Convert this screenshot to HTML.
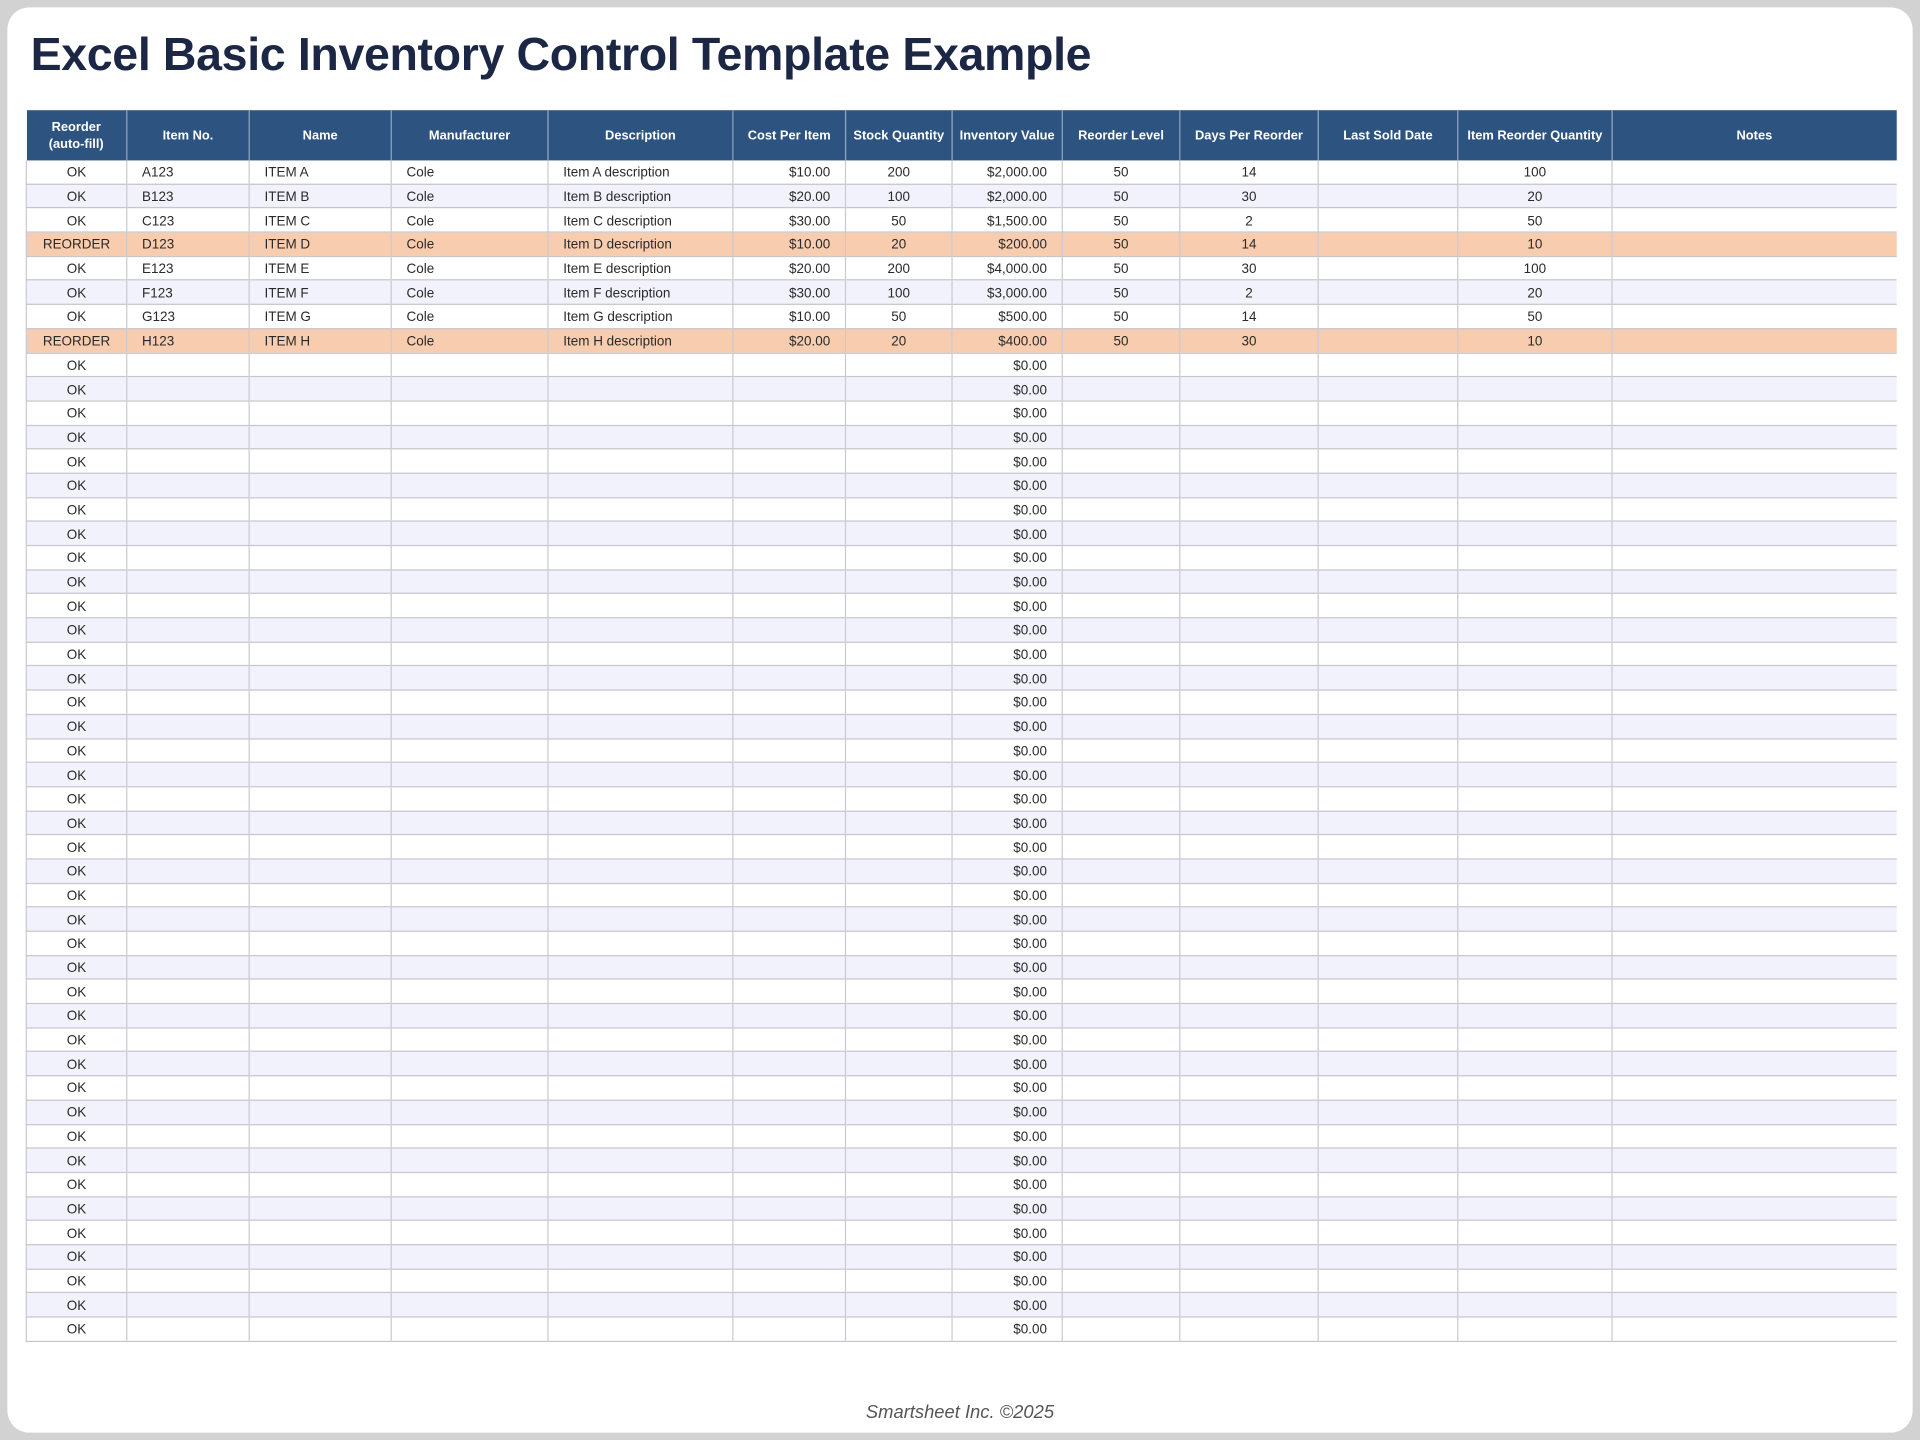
<!DOCTYPE html>
<html><head><meta charset="utf-8">
<style>
html,body{margin:0;padding:0;background:#cfcfcf;}
body{width:1920px;height:1440px;overflow:hidden;}
#wrap{width:1568px;height:1176px;transform:scale(1.22449);transform-origin:0 0;position:relative;background:#d2d2d2;}
#panel{position:absolute;left:6px;top:6px;width:1556px;height:1164px;background:#fff;border-radius:18px;}
h1{position:absolute;left:25px;top:24px;margin:0;font-family:"Liberation Sans",sans-serif;font-weight:bold;font-size:38px;color:#1b2744;letter-spacing:-0.3px;white-space:nowrap;}
table{position:absolute;left:21px;top:90px;border-collapse:collapse;table-layout:fixed;width:1527px;font-family:"Liberation Sans",sans-serif;font-size:11px;color:#2a2a2a;}
th{background:#2d5381;color:#fff;font-weight:bold;font-size:10.5px;height:41px;padding:0 2px;border-left:1px solid #8aa0bd;text-align:center;line-height:14px;}
th:first-child{border-left:none;}
td{height:16.7px;padding:2px 0 0 0;box-sizing:content-box;border-bottom:1px solid #c6c6cc;border-left:1px solid #c9c9d2;white-space:nowrap;line-height:16px;}
tr.a td{background:#f2f2fc;}
tr.r td{background:#f8ccae;}
.c{text-align:center;}.l{padding-left:12px;}.rt{text-align:right;padding-right:12px;}
#foot{position:absolute;left:0;width:1568px;top:1145px;text-align:center;font-family:"Liberation Sans",sans-serif;font-style:italic;font-size:15px;color:#555;}
</style></head><body><div id="wrap"><div id="panel"></div>
<h1>Excel Basic Inventory Control Template Example</h1>
<table>
<colgroup><col style="width:82px"><col style="width:100px"><col style="width:116px"><col style="width:128px"><col style="width:151px"><col style="width:92px"><col style="width:87px"><col style="width:90px"><col style="width:96px"><col style="width:113px"><col style="width:114px"><col style="width:126px"><col style="width:232px"></colgroup>
<tr><th>Reorder<br>(auto-fill)</th><th>Item No.</th><th>Name</th><th>Manufacturer</th><th>Description</th><th>Cost Per Item</th><th>Stock Quantity</th><th>Inventory Value</th><th>Reorder Level</th><th>Days Per Reorder</th><th>Last Sold Date</th><th>Item Reorder Quantity</th><th>Notes</th></tr>
<tr><td class="c">OK</td><td class="l">A123</td><td class="l">ITEM A</td><td class="l">Cole</td><td class="l">Item A description</td><td class="rt">$10.00</td><td class="c">200</td><td class="rt">$2,000.00</td><td class="c">50</td><td class="c">14</td><td></td><td class="c">100</td><td></td></tr>
<tr class="a"><td class="c">OK</td><td class="l">B123</td><td class="l">ITEM B</td><td class="l">Cole</td><td class="l">Item B description</td><td class="rt">$20.00</td><td class="c">100</td><td class="rt">$2,000.00</td><td class="c">50</td><td class="c">30</td><td></td><td class="c">20</td><td></td></tr>
<tr><td class="c">OK</td><td class="l">C123</td><td class="l">ITEM C</td><td class="l">Cole</td><td class="l">Item C description</td><td class="rt">$30.00</td><td class="c">50</td><td class="rt">$1,500.00</td><td class="c">50</td><td class="c">2</td><td></td><td class="c">50</td><td></td></tr>
<tr class="r"><td class="c">REORDER</td><td class="l">D123</td><td class="l">ITEM D</td><td class="l">Cole</td><td class="l">Item D description</td><td class="rt">$10.00</td><td class="c">20</td><td class="rt">$200.00</td><td class="c">50</td><td class="c">14</td><td></td><td class="c">10</td><td></td></tr>
<tr><td class="c">OK</td><td class="l">E123</td><td class="l">ITEM E</td><td class="l">Cole</td><td class="l">Item E description</td><td class="rt">$20.00</td><td class="c">200</td><td class="rt">$4,000.00</td><td class="c">50</td><td class="c">30</td><td></td><td class="c">100</td><td></td></tr>
<tr class="a"><td class="c">OK</td><td class="l">F123</td><td class="l">ITEM F</td><td class="l">Cole</td><td class="l">Item F description</td><td class="rt">$30.00</td><td class="c">100</td><td class="rt">$3,000.00</td><td class="c">50</td><td class="c">2</td><td></td><td class="c">20</td><td></td></tr>
<tr><td class="c">OK</td><td class="l">G123</td><td class="l">ITEM G</td><td class="l">Cole</td><td class="l">Item G description</td><td class="rt">$10.00</td><td class="c">50</td><td class="rt">$500.00</td><td class="c">50</td><td class="c">14</td><td></td><td class="c">50</td><td></td></tr>
<tr class="r"><td class="c">REORDER</td><td class="l">H123</td><td class="l">ITEM H</td><td class="l">Cole</td><td class="l">Item H description</td><td class="rt">$20.00</td><td class="c">20</td><td class="rt">$400.00</td><td class="c">50</td><td class="c">30</td><td></td><td class="c">10</td><td></td></tr>
<tr><td class="c">OK</td><td></td><td></td><td></td><td></td><td></td><td></td><td class="rt">$0.00</td><td></td><td></td><td></td><td></td><td></td></tr>
<tr class="a"><td class="c">OK</td><td></td><td></td><td></td><td></td><td></td><td></td><td class="rt">$0.00</td><td></td><td></td><td></td><td></td><td></td></tr>
<tr><td class="c">OK</td><td></td><td></td><td></td><td></td><td></td><td></td><td class="rt">$0.00</td><td></td><td></td><td></td><td></td><td></td></tr>
<tr class="a"><td class="c">OK</td><td></td><td></td><td></td><td></td><td></td><td></td><td class="rt">$0.00</td><td></td><td></td><td></td><td></td><td></td></tr>
<tr><td class="c">OK</td><td></td><td></td><td></td><td></td><td></td><td></td><td class="rt">$0.00</td><td></td><td></td><td></td><td></td><td></td></tr>
<tr class="a"><td class="c">OK</td><td></td><td></td><td></td><td></td><td></td><td></td><td class="rt">$0.00</td><td></td><td></td><td></td><td></td><td></td></tr>
<tr><td class="c">OK</td><td></td><td></td><td></td><td></td><td></td><td></td><td class="rt">$0.00</td><td></td><td></td><td></td><td></td><td></td></tr>
<tr class="a"><td class="c">OK</td><td></td><td></td><td></td><td></td><td></td><td></td><td class="rt">$0.00</td><td></td><td></td><td></td><td></td><td></td></tr>
<tr><td class="c">OK</td><td></td><td></td><td></td><td></td><td></td><td></td><td class="rt">$0.00</td><td></td><td></td><td></td><td></td><td></td></tr>
<tr class="a"><td class="c">OK</td><td></td><td></td><td></td><td></td><td></td><td></td><td class="rt">$0.00</td><td></td><td></td><td></td><td></td><td></td></tr>
<tr><td class="c">OK</td><td></td><td></td><td></td><td></td><td></td><td></td><td class="rt">$0.00</td><td></td><td></td><td></td><td></td><td></td></tr>
<tr class="a"><td class="c">OK</td><td></td><td></td><td></td><td></td><td></td><td></td><td class="rt">$0.00</td><td></td><td></td><td></td><td></td><td></td></tr>
<tr><td class="c">OK</td><td></td><td></td><td></td><td></td><td></td><td></td><td class="rt">$0.00</td><td></td><td></td><td></td><td></td><td></td></tr>
<tr class="a"><td class="c">OK</td><td></td><td></td><td></td><td></td><td></td><td></td><td class="rt">$0.00</td><td></td><td></td><td></td><td></td><td></td></tr>
<tr><td class="c">OK</td><td></td><td></td><td></td><td></td><td></td><td></td><td class="rt">$0.00</td><td></td><td></td><td></td><td></td><td></td></tr>
<tr class="a"><td class="c">OK</td><td></td><td></td><td></td><td></td><td></td><td></td><td class="rt">$0.00</td><td></td><td></td><td></td><td></td><td></td></tr>
<tr><td class="c">OK</td><td></td><td></td><td></td><td></td><td></td><td></td><td class="rt">$0.00</td><td></td><td></td><td></td><td></td><td></td></tr>
<tr class="a"><td class="c">OK</td><td></td><td></td><td></td><td></td><td></td><td></td><td class="rt">$0.00</td><td></td><td></td><td></td><td></td><td></td></tr>
<tr><td class="c">OK</td><td></td><td></td><td></td><td></td><td></td><td></td><td class="rt">$0.00</td><td></td><td></td><td></td><td></td><td></td></tr>
<tr class="a"><td class="c">OK</td><td></td><td></td><td></td><td></td><td></td><td></td><td class="rt">$0.00</td><td></td><td></td><td></td><td></td><td></td></tr>
<tr><td class="c">OK</td><td></td><td></td><td></td><td></td><td></td><td></td><td class="rt">$0.00</td><td></td><td></td><td></td><td></td><td></td></tr>
<tr class="a"><td class="c">OK</td><td></td><td></td><td></td><td></td><td></td><td></td><td class="rt">$0.00</td><td></td><td></td><td></td><td></td><td></td></tr>
<tr><td class="c">OK</td><td></td><td></td><td></td><td></td><td></td><td></td><td class="rt">$0.00</td><td></td><td></td><td></td><td></td><td></td></tr>
<tr class="a"><td class="c">OK</td><td></td><td></td><td></td><td></td><td></td><td></td><td class="rt">$0.00</td><td></td><td></td><td></td><td></td><td></td></tr>
<tr><td class="c">OK</td><td></td><td></td><td></td><td></td><td></td><td></td><td class="rt">$0.00</td><td></td><td></td><td></td><td></td><td></td></tr>
<tr class="a"><td class="c">OK</td><td></td><td></td><td></td><td></td><td></td><td></td><td class="rt">$0.00</td><td></td><td></td><td></td><td></td><td></td></tr>
<tr><td class="c">OK</td><td></td><td></td><td></td><td></td><td></td><td></td><td class="rt">$0.00</td><td></td><td></td><td></td><td></td><td></td></tr>
<tr class="a"><td class="c">OK</td><td></td><td></td><td></td><td></td><td></td><td></td><td class="rt">$0.00</td><td></td><td></td><td></td><td></td><td></td></tr>
<tr><td class="c">OK</td><td></td><td></td><td></td><td></td><td></td><td></td><td class="rt">$0.00</td><td></td><td></td><td></td><td></td><td></td></tr>
<tr class="a"><td class="c">OK</td><td></td><td></td><td></td><td></td><td></td><td></td><td class="rt">$0.00</td><td></td><td></td><td></td><td></td><td></td></tr>
<tr><td class="c">OK</td><td></td><td></td><td></td><td></td><td></td><td></td><td class="rt">$0.00</td><td></td><td></td><td></td><td></td><td></td></tr>
<tr class="a"><td class="c">OK</td><td></td><td></td><td></td><td></td><td></td><td></td><td class="rt">$0.00</td><td></td><td></td><td></td><td></td><td></td></tr>
<tr><td class="c">OK</td><td></td><td></td><td></td><td></td><td></td><td></td><td class="rt">$0.00</td><td></td><td></td><td></td><td></td><td></td></tr>
<tr class="a"><td class="c">OK</td><td></td><td></td><td></td><td></td><td></td><td></td><td class="rt">$0.00</td><td></td><td></td><td></td><td></td><td></td></tr>
<tr><td class="c">OK</td><td></td><td></td><td></td><td></td><td></td><td></td><td class="rt">$0.00</td><td></td><td></td><td></td><td></td><td></td></tr>
<tr class="a"><td class="c">OK</td><td></td><td></td><td></td><td></td><td></td><td></td><td class="rt">$0.00</td><td></td><td></td><td></td><td></td><td></td></tr>
<tr><td class="c">OK</td><td></td><td></td><td></td><td></td><td></td><td></td><td class="rt">$0.00</td><td></td><td></td><td></td><td></td><td></td></tr>
<tr class="a"><td class="c">OK</td><td></td><td></td><td></td><td></td><td></td><td></td><td class="rt">$0.00</td><td></td><td></td><td></td><td></td><td></td></tr>
<tr><td class="c">OK</td><td></td><td></td><td></td><td></td><td></td><td></td><td class="rt">$0.00</td><td></td><td></td><td></td><td></td><td></td></tr>
<tr class="a"><td class="c">OK</td><td></td><td></td><td></td><td></td><td></td><td></td><td class="rt">$0.00</td><td></td><td></td><td></td><td></td><td></td></tr>
<tr><td class="c">OK</td><td></td><td></td><td></td><td></td><td></td><td></td><td class="rt">$0.00</td><td></td><td></td><td></td><td></td><td></td></tr>
</table>
<div id="foot">Smartsheet Inc. ©2025</div>
</div></body></html>
